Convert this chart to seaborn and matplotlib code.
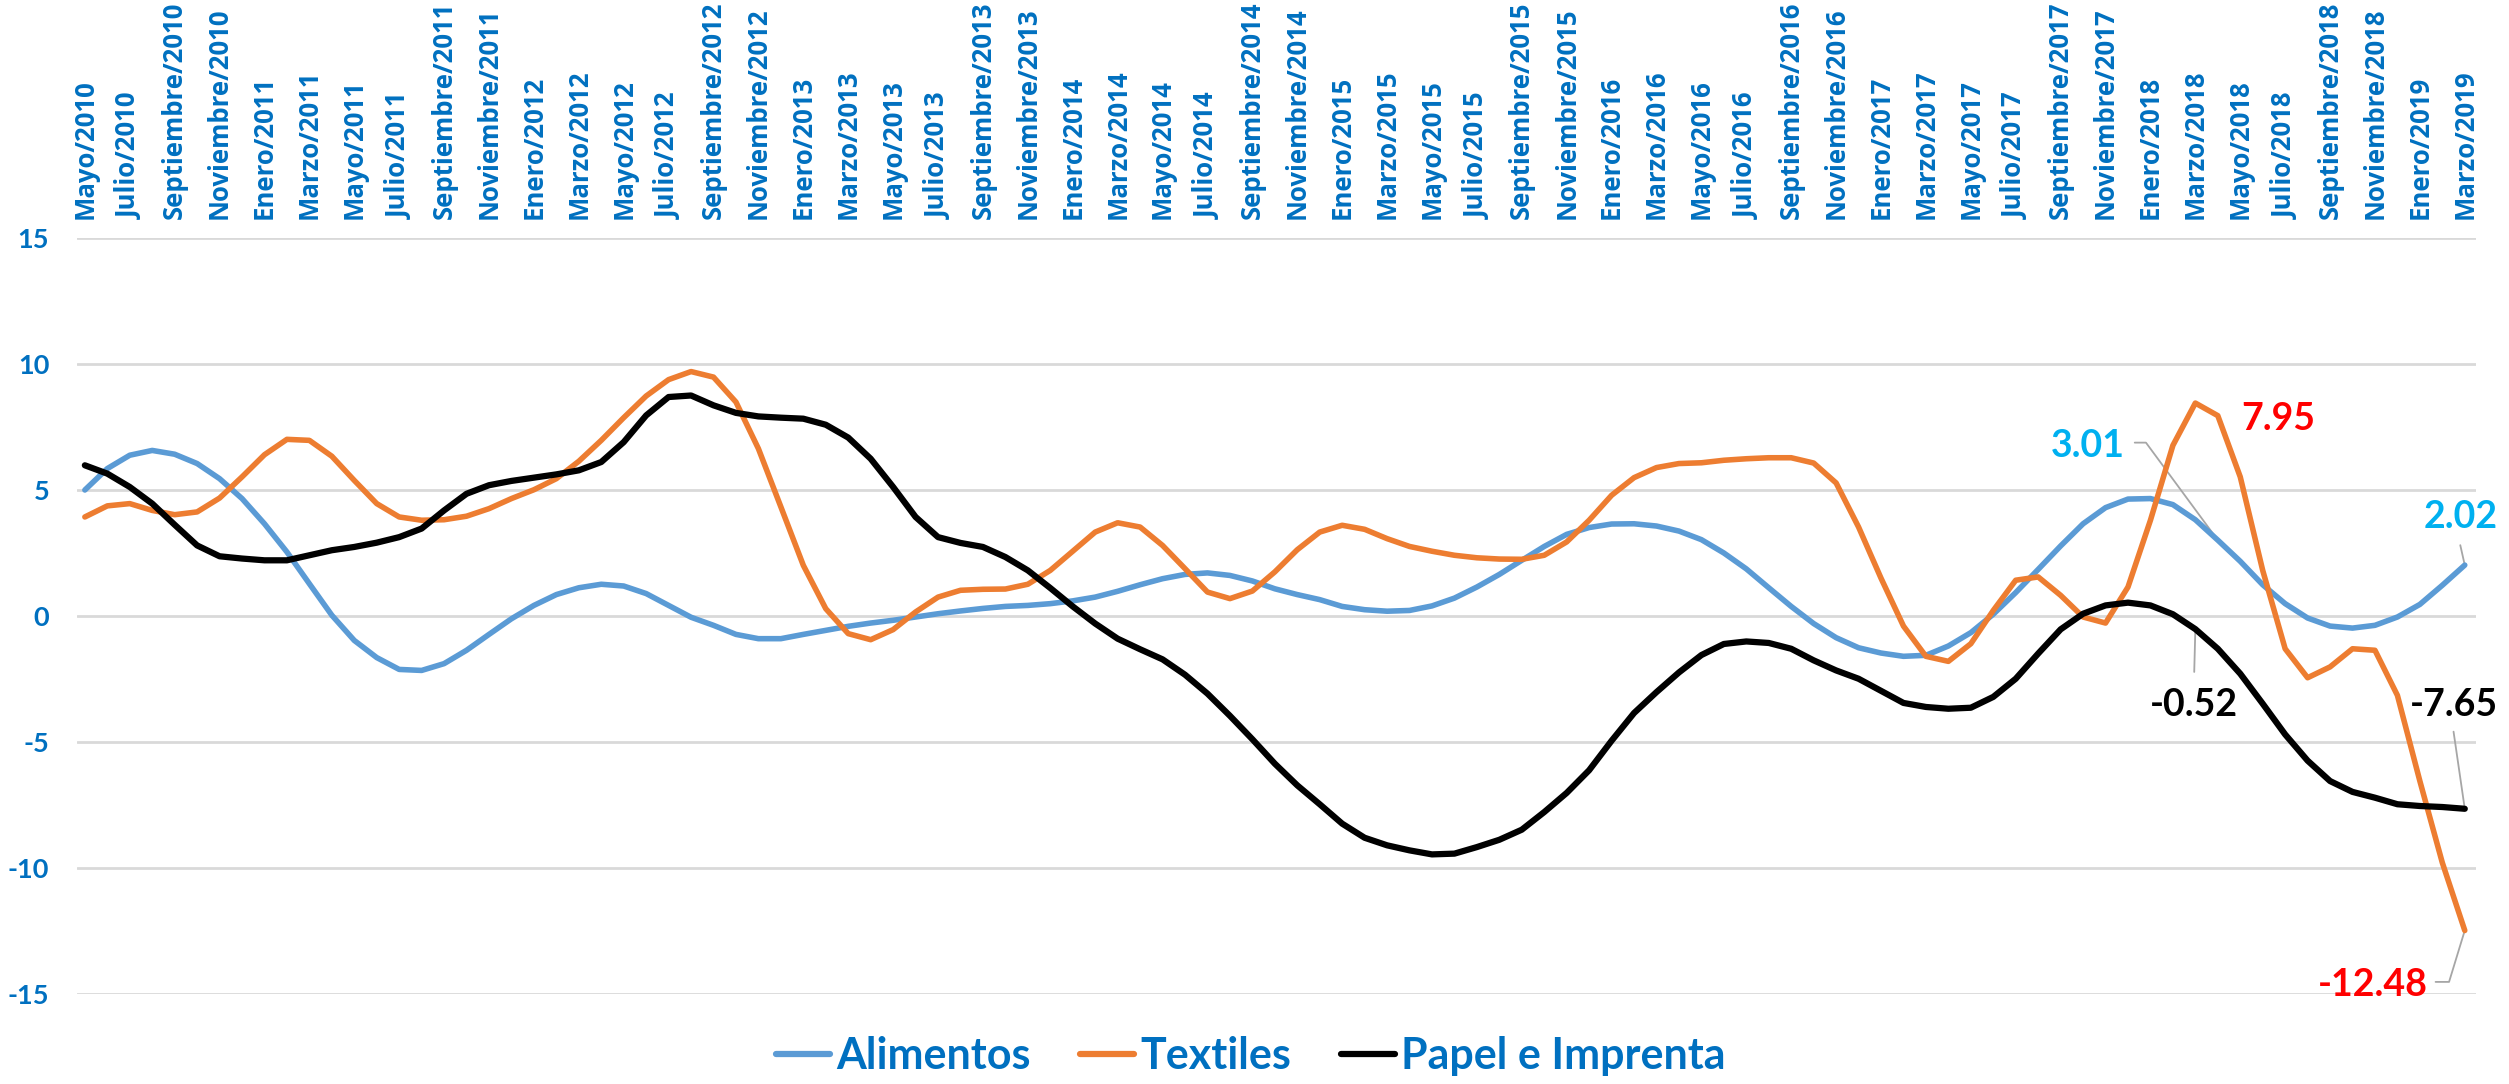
import numpy as np
import pandas as pd
import matplotlib
matplotlib.use("Agg")
import matplotlib.pyplot as plt
from matplotlib.font_manager import FontProperties
from matplotlib.lines import Line2D
import seaborn as sns

# ---------------- data ----------------
tick_labels = [
    "Mayo/2010", "Julio/2010", "Septiembre/2010", "Noviembre/2010",
    "Enero/2011", "Marzo/2011", "Mayo/2011", "Julio/2011", "Septiembre/2011", "Noviembre/2011",
    "Enero/2012", "Marzo/2012", "Mayo/2012", "Julio/2012", "Septiembre/2012", "Noviembre/2012",
    "Enero/2013", "Marzo/2013", "Mayo/2013", "Julio/2013", "Septiembre/2013", "Noviembre/2013",
    "Enero/2014", "Marzo/2014", "Mayo/2014", "Julio/2014", "Septiembre/2014", "Noviembre/2014",
    "Enero/2015", "Marzo/2015", "Mayo/2015", "Julio/2015", "Septiembre/2015", "Noviembre/2015",
    "Enero/2016", "Marzo/2016", "Mayo/2016", "Julio/2016", "Septiembre/2016", "Noviembre/2016",
    "Enero/2017", "Marzo/2017", "Mayo/2017", "Julio/2017", "Septiembre/2017", "Noviembre/2017",
    "Enero/2018", "Marzo/2018", "Mayo/2018", "Julio/2018", "Septiembre/2018", "Noviembre/2018",
    "Enero/2019", "Marzo/2019",
]

alimentos = [
    5.00, 5.85, 6.38, 6.57, 6.42, 6.05, 5.45, 4.66, 3.66, 2.54,
    1.28, 0.03, -0.97, -1.65, -2.12, -2.16, -1.89, -1.36, -0.73, -0.11,
    0.42, 0.85, 1.12, 1.26, 1.19, 0.89, 0.42, -0.05, -0.37, -0.73,
    -0.90, -0.90, -0.73, -0.57, -0.41, -0.28, -0.17, -0.04, 0.09, 0.20,
    0.30, 0.38, 0.42, 0.49, 0.60, 0.75, 0.98, 1.24, 1.48, 1.65,
    1.71, 1.61, 1.39, 1.08, 0.85, 0.65, 0.38, 0.25, 0.19, 0.22,
    0.40, 0.71, 1.15, 1.65, 2.21, 2.76, 3.24, 3.51, 3.65, 3.66,
    3.57, 3.37, 3.03, 2.50, 1.87, 1.12, 0.38, -0.30, -0.86, -1.26,
    -1.47, -1.60, -1.56, -1.19, -0.66, 0.07, 0.93, 1.85, 2.78, 3.66,
    4.30, 4.64, 4.66, 4.42, 3.82, 3.01, 2.17, 1.24, 0.49, -0.08,
    -0.40, -0.48, -0.37, -0.04, 0.46, 1.22, 2.02,
]

textiles = [
    3.93, 4.37, 4.46, 4.19, 4.02, 4.13, 4.68, 5.52, 6.40, 7.01,
    6.97, 6.34, 5.38, 4.46, 3.93, 3.80, 3.82, 3.96, 4.26, 4.66,
    5.01, 5.45, 6.14, 6.97, 7.87, 8.73, 9.38, 9.70, 9.48, 8.49,
    6.64, 4.33, 2.01, 0.29, -0.70, -0.94, -0.54, 0.16, 0.75, 1.02,
    1.06, 1.07, 1.26, 1.81, 2.57, 3.33, 3.70, 3.53, 2.80, 1.88,
    0.95, 0.69, 0.99, 1.75, 2.63, 3.33, 3.60, 3.44, 3.07, 2.76,
    2.57, 2.41, 2.31, 2.26, 2.25, 2.41, 2.94, 3.80, 4.79, 5.49,
    5.89, 6.05, 6.08, 6.18, 6.24, 6.28, 6.28, 6.07, 5.28, 3.53,
    1.50, -0.40, -1.60, -1.80, -1.10, 0.22, 1.42, 1.55, 0.82, -0.04,
    -0.28, 1.15, 3.80, 6.77, 8.45, 7.95, 5.52, 1.81, -1.30, -2.45,
    -2.02, -1.30, -1.36, -3.15, -6.55, -9.79, -12.48,
]

papel = [
    5.98, 5.65, 5.12, 4.46, 3.62, 2.80, 2.37, 2.28, 2.21, 2.21,
    2.41, 2.61, 2.74, 2.91, 3.13, 3.47, 4.19, 4.85, 5.19, 5.36,
    5.49, 5.62, 5.78, 6.11, 6.90, 7.96, 8.69, 8.75, 8.36, 8.06,
    7.92, 7.87, 7.83, 7.59, 7.08, 6.24, 5.12, 3.93, 3.13, 2.90,
    2.74, 2.34, 1.81, 1.11, 0.38, -0.30, -0.90, -1.32, -1.72, -2.33,
    -3.08, -3.96, -4.89, -5.86, -6.72, -7.47, -8.24, -8.80, -9.10, -9.30,
    -9.46, -9.43, -9.17, -8.88, -8.48, -7.78, -7.02, -6.12, -4.95, -3.85,
    -3.02, -2.24, -1.55, -1.11, -1.01, -1.07, -1.30, -1.76, -2.16, -2.49,
    -2.97, -3.45, -3.61, -3.68, -3.64, -3.21, -2.49, -1.49, -0.53, 0.09,
    0.42, 0.53, 0.42, 0.07, -0.52, -1.30, -2.29, -3.48, -4.70, -5.74,
    -6.55, -6.98, -7.21, -7.47, -7.54, -7.58, -7.65,
]

series_names = ["Alimentos", "Textiles", "Papel e Imprenta"]
series_values = [alimentos, textiles, papel]
series_colors = ["#5B9BD5", "#ED7D31", "#000000"]
series_widths = [4.0, 4.0, 4.5]
y_ticks = [-15, -10, -5, 0, 5, 10, 15]

# ---------------- styling ----------------
sns.set_theme(style="white")
plt.rcParams["font.family"] = ["Lato", "DejaVu Sans"]

BLUE_TXT = "#0070C0"
W, H = 2509, 1084
fig = plt.figure(figsize=(W / 100, H / 100), dpi=100)
left, right, top, bottom = 77, 2476, 238, 994
ax = fig.add_axes([left / W, 1 - bottom / H, (right - left) / W, (bottom - top) / H])

n = len(alimentos)
idx = np.arange(n)
frames = []
for name, vals in zip(series_names, series_values):
    frames.append(pd.DataFrame({"idx": idx, "valor": vals, "serie": name}))
df = pd.concat(frames, ignore_index=True)

for name, col, lw in zip(series_names, series_colors, series_widths):
    sns.lineplot(data=df[df["serie"] == name], x="idx", y="valor", color=col,
                 linewidth=lw, ax=ax, legend=False, sort=False,
                 solid_joinstyle="round", solid_capstyle="round")

ax.set_xlim(-0.35, n - 1 + 0.5)
ax.set_ylim(-15, 15)
ax.set_xlabel("")
ax.set_ylabel("")
for s in ax.spines.values():
    s.set_visible(False)

ax.set_yticks(y_ticks)
ax.set_yticklabels([str(v) for v in y_ticks])
ax.grid(axis="y", color="#D9D9D9", linewidth=2.0)
ax.grid(axis="x", visible=False)
ax.set_axisbelow(True)

ax.xaxis.tick_top()
ax.set_xticks(idx[::2])
ax.set_xticklabels(tick_labels, rotation=90, ha="center", va="bottom",
                   fontfamily=["Open Sans", "DejaVu Sans"], fontweight="bold",
                   fontsize=18.5, color=BLUE_TXT)
ax.tick_params(axis="x", length=0, pad=14, labeltop=True, labelbottom=False)
ax.tick_params(axis="y", length=0, pad=20)
for t in ax.get_yticklabels():
    t.set_fontweight("bold")
    t.set_fontsize(19.5)
    t.set_color(BLUE_TXT)

# ---------------- data labels ----------------
LEAD = "#A6A6A6"
lab_font = dict(fontsize=27, fontweight="bold", ha="center", va="center")

def last(vals):
    return vals[-1]

ax.text(89.2, 6.76, f"{alimentos[95]:.2f}", color="#00B0F0", **lab_font)
ax.plot([91.3, 91.8, 95], [6.88, 6.88, alimentos[95]], color=LEAD, lw=1.3, zorder=1)

ax.text(97.7, 7.83, f"{textiles[95]:.2f}", color="#FF0000", **lab_font)

ax.text(105.8, 3.92, f"{last(alimentos):.2f}", color="#00B0F0", **lab_font)
ax.plot([105.8, 106], [2.81, last(alimentos)], color=LEAD, lw=1.3, zorder=1)

ax.text(93.95, -3.52, f"{papel[94]:.2f}", color="#000000", **lab_font)
ax.plot([93.95, 94], [-2.22, papel[94]], color=LEAD, lw=1.3, zorder=1)

ax.text(105.5, -3.52, f"{last(papel):.2f}", color="#000000", **lab_font)
ax.plot([105.5, 106], [-4.59, last(papel)], color=LEAD, lw=1.3, zorder=1)

ax.text(101.9, -14.64, f"{last(textiles):.2f}", color="#FF0000", **lab_font)
ax.plot([104.7, 105.3, 106], [-14.52, -14.52, last(textiles)], color=LEAD, lw=1.3, zorder=1)

# ---------------- legend ----------------
handles = [Line2D([0], [0], color=c, lw=4.5) for c in series_colors]
leg = ax.legend(handles, series_names, loc="center", bbox_to_anchor=(1251 / W, 1 - 1056 / H),
                bbox_transform=fig.transFigure, ncol=3, frameon=False,
                prop=FontProperties(family="Lato", weight="bold", size=31),
                handlelength=1.25, handletextpad=0.15, columnspacing=1.15)
for t in leg.get_texts():
    t.set_color(BLUE_TXT)

fig.savefig("out.png", dpi=100)
